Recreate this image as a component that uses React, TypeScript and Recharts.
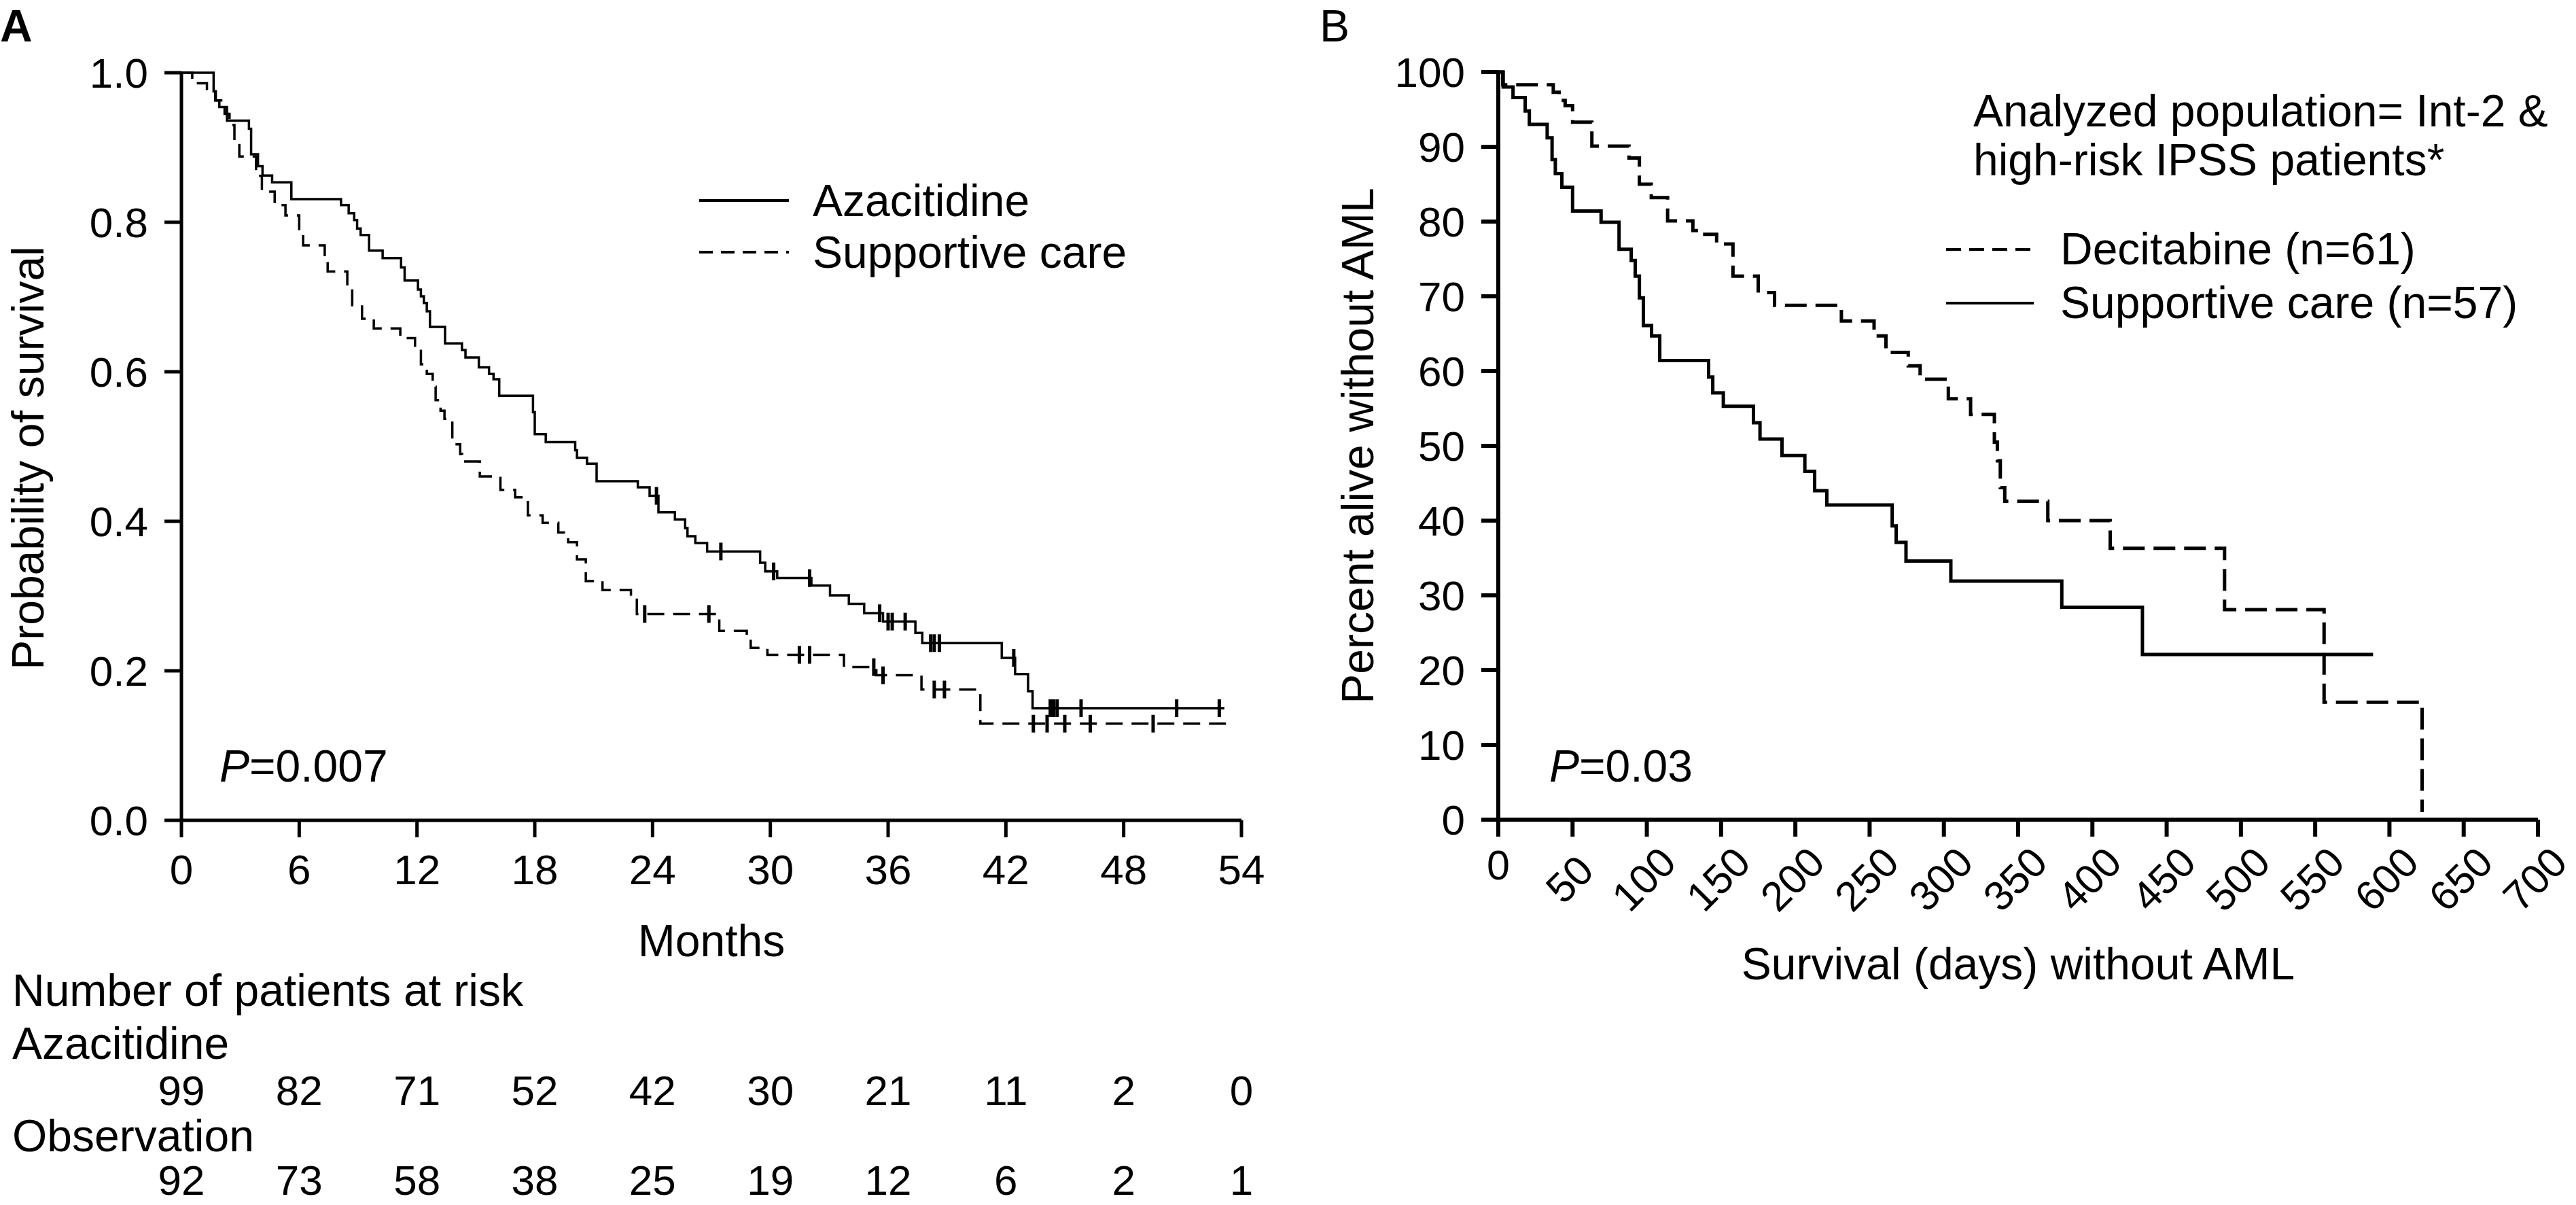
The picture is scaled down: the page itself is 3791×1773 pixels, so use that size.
import React from 'react';
import { ComposedChart, Line, Scatter, XAxis, YAxis, Legend } from 'recharts';

const FONT = '"Liberation Sans", Arial, Helvetica, sans-serif';

// ---- Panel A: overall survival (months) ----
const monthTicks = [0, 6, 12, 18, 24, 30, 36, 42, 48, 54];
const probTicks = [0, 0.2, 0.4, 0.6, 0.8, 1.0];

const azacitidine: [number, number][] = [
  [0, 1.0], [1.64, 0.975], [1.72, 0.963], [1.93, 0.954], [2.32, 0.936], [3.44, 0.925], [3.55, 0.891],
  [3.9, 0.875], [4.13, 0.8625], [4.62, 0.8535], [5.6, 0.831], [8.13, 0.823], [8.52, 0.812], [8.8, 0.803],
  [8.95, 0.7915], [9.13, 0.783], [9.56, 0.762], [10.25, 0.752], [11.19, 0.7395], [11.37, 0.722],
  [12.05, 0.71], [12.2, 0.701], [12.35, 0.692], [12.5, 0.681], [12.66, 0.66], [13.43, 0.638],
  [14.29, 0.629], [14.47, 0.619], [15.15, 0.606], [15.67, 0.597], [15.9, 0.59], [16.19, 0.568],
  [17.91, 0.546], [18.0, 0.5165], [18.56, 0.506], [20.06, 0.495], [20.15, 0.485], [20.66, 0.477],
  [21.15, 0.4536], [23.25, 0.4455], [23.85, 0.434], [24.3, 0.412], [25.14, 0.4026], [25.66, 0.391],
  [25.78, 0.38], [26.18, 0.371], [26.78, 0.3596], [29.48, 0.3445], [29.74, 0.333], [30.35, 0.324],
  [32.09, 0.314], [33.04, 0.301], [34.0, 0.2896], [34.78, 0.277], [35.74, 0.2658], [37.39, 0.2506],
  [37.74, 0.237], [41.79, 0.2173], [42.47, 0.1957], [43.13, 0.1728], [43.36, 0.15], [53.13, 0.15],
];
const azacitidineCensored: [number, number][] = [
  [24.2, 0.434], [27.48, 0.3596], [30.17, 0.333], [32.0, 0.324], [35.57, 0.277], [36.0, 0.2658],
  [36.21, 0.2658], [36.87, 0.2658], [38.17, 0.237], [38.35, 0.237], [38.61, 0.237], [42.4, 0.2173],
  [44.26, 0.15], [44.43, 0.15], [44.61, 0.15], [45.83, 0.15], [50.7, 0.15], [52.87, 0.15],
];

const supportiveA: [number, number][] = [
  [0, 1.0], [0.55, 0.986], [1.3, 0.975], [1.75, 0.963], [2.2, 0.945], [2.45, 0.93], [2.7, 0.905],
  [2.95, 0.888], [3.8, 0.862], [4.1, 0.841], [4.75, 0.823], [5.3, 0.809], [6.0, 0.789], [6.2, 0.769],
  [7.3, 0.752], [7.45, 0.734], [8.45, 0.714], [8.7, 0.689], [9.2, 0.671], [9.8, 0.658], [11.15, 0.645],
  [11.9, 0.628], [12.2, 0.61], [12.5, 0.597], [12.8, 0.58], [12.95, 0.562], [13.2, 0.548], [13.4, 0.537],
  [13.8, 0.503], [14.2, 0.49], [14.3, 0.48], [15.2, 0.46], [16.25, 0.442], [17.0, 0.432], [17.65, 0.408],
  [18.4, 0.398], [19.2, 0.385], [19.7, 0.372], [20.15, 0.349], [20.6, 0.32], [21.45, 0.308],
  [22.9, 0.298], [23.2, 0.276], [27.4, 0.2535], [28.8, 0.243], [29.0, 0.2306], [29.85, 0.2213],
  [33.75, 0.2049], [35.4, 0.194], [37.7, 0.175], [40.7, 0.1293], [53.3, 0.1293],
];
const supportiveACensored: [number, number][] = [
  [23.6, 0.276], [26.87, 0.276], [31.48, 0.2213], [32.0, 0.2213], [35.27, 0.2049], [35.74, 0.194],
  [38.35, 0.175], [38.87, 0.175], [43.4, 0.1293], [44.1, 0.1293], [45.0, 0.1293], [46.3, 0.1293], [49.5, 0.1293],
];

const riskAzacitidine = [99, 82, 71, 52, 42, 30, 21, 11, 2, 0];
const riskObservation = [92, 73, 58, 38, 25, 19, 12, 6, 2, 1];

// ---- Panel B: AML-free survival (days) ----
const dayTicks = [0, 50, 100, 150, 200, 250, 300, 350, 400, 450, 500, 550, 600, 650, 700];
const percentTicks = [0, 10, 20, 30, 40, 50, 60, 70, 80, 90, 100];

const decitabine: [number, number][] = [
  [0, 100], [3, 98.3], [37, 97.3], [41, 96.2], [45, 95.5], [50, 93.3], [63, 90.1], [88, 88.5], [95, 85],
  [103, 83.2], [114, 80.1], [131, 78.8], [139, 78.3], [147, 77], [158, 72.7], [175, 70.5], [186, 68.8],
  [231, 66.7], [253, 64.7], [261, 62.5], [276, 60.7], [284, 58.9], [303, 56.3], [318, 54.2], [334, 50.5],
  [336, 48], [338, 44.4], [341, 42.6], [370, 40], [412, 36.3], [489, 28.1], [556, 15.7], [622, 1],
];
const supportiveB: [number, number][] = [
  [0, 100], [3.3, 98], [9.9, 96.6], [18.1, 94.8], [20.9, 93], [32.9, 91.2], [36.2, 88.3], [38.4, 86.4],
  [42.8, 84.6], [50, 81.4], [69.2, 79.9], [81.3, 76.3], [89.5, 74.8], [92.2, 72.7], [95, 69.8],
  [97.7, 66.1], [103.2, 64.7], [108.7, 61.4], [141.6, 59.2], [144.4, 57.1], [151.5, 55.3], [171.8, 53.1],
  [176.2, 50.9], [191, 48.7], [206.4, 46.6], [213, 44], [221.2, 42.1], [265.2, 39.3], [267.9, 37.1],
  [274.5, 34.6], [304.7, 31.9], [379.4, 28.4], [433.7, 22.1], [589, 22.1],
];

const toPoints = (arr: [number, number][]) => arr.map(([t, s]) => ({ t, s }));
const tickAnchors = monthTicks.map((t) => ({ t, s: 0 }));

const CensorMark = (props: any) => {
  const { cx, cy } = props;
  return <line x1={cx} x2={cx} y1={cy - 13} y2={cy + 13} stroke="#000" strokeWidth={5} />;
};
const Nothing = () => <g />;

const DayTick = (props: any) => {
  const { x, y, payload } = props;
  const style = { fontSize: 61, fontFamily: FONT, fill: '#000' };
  if (payload.value === 0) {
    return (
      <text x={x} y={y + 41} dy="0.36em" textAnchor="middle" {...style}>
        0
      </text>
    );
  }
  return (
    <g transform={`translate(${x - 5},${y + 62})`}>
      <text transform="rotate(-45)" textAnchor="middle" dy="0.36em" {...style}>
        {payload.value}
      </text>
    </g>
  );
};

const makeLegend = (dashes: Record<string, string | undefined>, lineLen: number, gap: number, rowH: number) =>
  (props: any) => (
    <div style={{ fontFamily: FONT }}>
      {(props.payload || [])
        .filter((entry: any) => entry.value in dashes)
        .map((entry: any) => (
          <div key={entry.value} style={{ display: 'flex', alignItems: 'center', height: rowH }}>
            <svg width={lineLen} height={10}>
              <line x1={0} x2={lineLen} y1={5} y2={5} stroke="#000" strokeWidth={4} strokeDasharray={dashes[entry.value]} />
            </svg>
            <span style={{ marginLeft: gap, fontSize: 66, lineHeight: `${rowH}px`, color: '#000', whiteSpace: 'nowrap' }}>
              {entry.value}
            </span>
          </div>
        ))}
    </div>
  );

const tickStyle = { fontSize: 62, fill: '#000', fontFamily: FONT };
const axisA = { stroke: '#000', strokeWidth: 5 };
const axisB = { stroke: '#000', strokeWidth: 6 };

export default function App() {
  return (
    <div style={{ position: 'absolute', left: 0, top: 0, width: 3791, height: 1773, background: '#fff', fontFamily: FONT }}>
      <div style={{ position: 'absolute', left: 0, top: 0 }}>
        <ComposedChart width={1900} height={1773} margin={{ top: 107, right: 73, bottom: 0, left: 0 }}>
          <XAxis
            dataKey="t"
            type="number"
            domain={[0, 54]}
            ticks={monthTicks}
            interval={0}
            height={375}
            tickSize={25}
            tickMargin={25}
            axisLine={axisA}
            tickLine={axisA}
            tick={tickStyle}
          />
          <XAxis
            xAxisId="riskAza"
            dataKey="t"
            type="number"
            domain={[0, 54]}
            ticks={monthTicks}
            interval={0}
            height={132}
            tickSize={0}
            tickMargin={0}
            axisLine={false}
            tickLine={false}
            tick={tickStyle}
            tickFormatter={(v: number) => String(riskAzacitidine[monthTicks.indexOf(v)])}
          />
          <XAxis
            xAxisId="riskObs"
            dataKey="t"
            type="number"
            domain={[0, 54]}
            ticks={monthTicks}
            interval={0}
            height={59}
            tickSize={0}
            tickMargin={0}
            axisLine={false}
            tickLine={false}
            tick={tickStyle}
            tickFormatter={(v: number) => String(riskObservation[monthTicks.indexOf(v)])}
          />
          <YAxis
            dataKey="s"
            type="number"
            domain={[0, 1]}
            ticks={probTicks}
            interval={0}
            width={267}
            tickSize={25}
            tickMargin={24}
            axisLine={axisA}
            tickLine={axisA}
            tick={tickStyle}
            tickFormatter={(v: number) => v.toFixed(1)}
          />
          <Legend
            layout="vertical"
            align="center"
            verticalAlign="middle"
            wrapperStyle={{ left: 1029, top: 257, width: 800, height: 160 }}
            content={makeLegend({ Azacitidine: undefined, 'Supportive care': '20 12' }, 132, 35, 76)}
          />
          <Line data={toPoints(azacitidine)} dataKey="s" name="Azacitidine" type="stepAfter" stroke="#000"
            strokeWidth={3.5} dot={false} activeDot={false} isAnimationActive={false} />
          <Line data={toPoints(supportiveA)} dataKey="s" name="Supportive care" type="stepAfter" stroke="#000"
            strokeWidth={3.5} strokeDasharray="25 13" dot={false} activeDot={false} isAnimationActive={false} />
          <Scatter data={toPoints(azacitidineCensored)} shape={CensorMark} legendType="none" isAnimationActive={false} />
          <Scatter data={toPoints(supportiveACensored)} shape={CensorMark} legendType="none" isAnimationActive={false} />
          <Scatter xAxisId="riskAza" data={tickAnchors} shape={Nothing} legendType="none" isAnimationActive={false} />
          <Scatter xAxisId="riskObs" data={tickAnchors} shape={Nothing} legendType="none" isAnimationActive={false} />
        </ComposedChart>
      </div>

      <div style={{ position: 'absolute', left: 1900, top: 0 }}>
        <ComposedChart width={1891} height={1773} margin={{ top: 106, right: 56, bottom: 0, left: 0 }}>
          <XAxis
            dataKey="t"
            type="number"
            domain={[0, 700]}
            ticks={dayTicks}
            interval={0}
            height={567}
            tickSize={25}
            tickMargin={0}
            axisLine={axisB}
            tickLine={axisB}
            tick={<DayTick />}
          />
          <YAxis
            dataKey="s"
            type="number"
            domain={[0, 100]}
            ticks={percentTicks}
            interval={0}
            width={305}
            tickSize={25}
            tickMargin={24}
            axisLine={axisB}
            tickLine={axisB}
            tick={tickStyle}
          />
          <Legend
            layout="vertical"
            align="center"
            verticalAlign="middle"
            wrapperStyle={{ left: 964, top: 327, width: 900, height: 170 }}
            content={makeLegend({ 'Decitabine (n=61)': '22 12', 'Supportive care (n=57)': undefined }, 129, 39, 79)}
          />
          <Line data={toPoints(decitabine)} dataKey="s" name="Decitabine (n=61)" type="stepAfter" stroke="#000"
            strokeWidth={5} strokeDasharray="32 13" dot={false} activeDot={false} isAnimationActive={false} />
          <Line data={toPoints(supportiveB)} dataKey="s" name="Supportive care (n=57)" type="stepAfter" stroke="#000"
            strokeWidth={5} dot={false} activeDot={false} isAnimationActive={false} />
        </ComposedChart>
      </div>

      <svg width={3791} height={1773} style={{ position: 'absolute', left: 0, top: 0, pointerEvents: 'none' }}
        fontFamily={FONT} fill="#000">
        <text x={0} y={61} fontSize={66} fontWeight="bold">A</text>
        <text x={1942} y={61} fontSize={66}>B</text>

        <text x={64} y={674} fontSize={66} textAnchor="middle" transform="rotate(-90 64 674)">Probability of survival</text>
        <text x={2021} y={656} fontSize={66} textAnchor="middle" transform="rotate(-90 2021 656)">Percent alive without AML</text>

        <text x={1047} y={1407} fontSize={66} textAnchor="middle">Months</text>
        <text x={2970} y={1441} fontSize={66} textAnchor="middle">Survival (days) without AML</text>

        <text x={18} y={1480} fontSize={66}>Number of patients at risk</text>
        <text x={18} y={1558} fontSize={66}>Azacitidine</text>
        <text x={18} y={1694} fontSize={66}>Observation</text>

        <text x={323} y={1150} fontSize={66}><tspan fontStyle="italic">P</tspan>=0.007</text>
        <text x={2280} y={1150} fontSize={66}><tspan fontStyle="italic">P</tspan>=0.03</text>

        <text x={2904} y={186} fontSize={66}>Analyzed population= Int-2 &amp;</text>
        <text x={2904} y={258} fontSize={66}>high-risk IPSS patients*</text>
      </svg>
    </div>
  );
}
